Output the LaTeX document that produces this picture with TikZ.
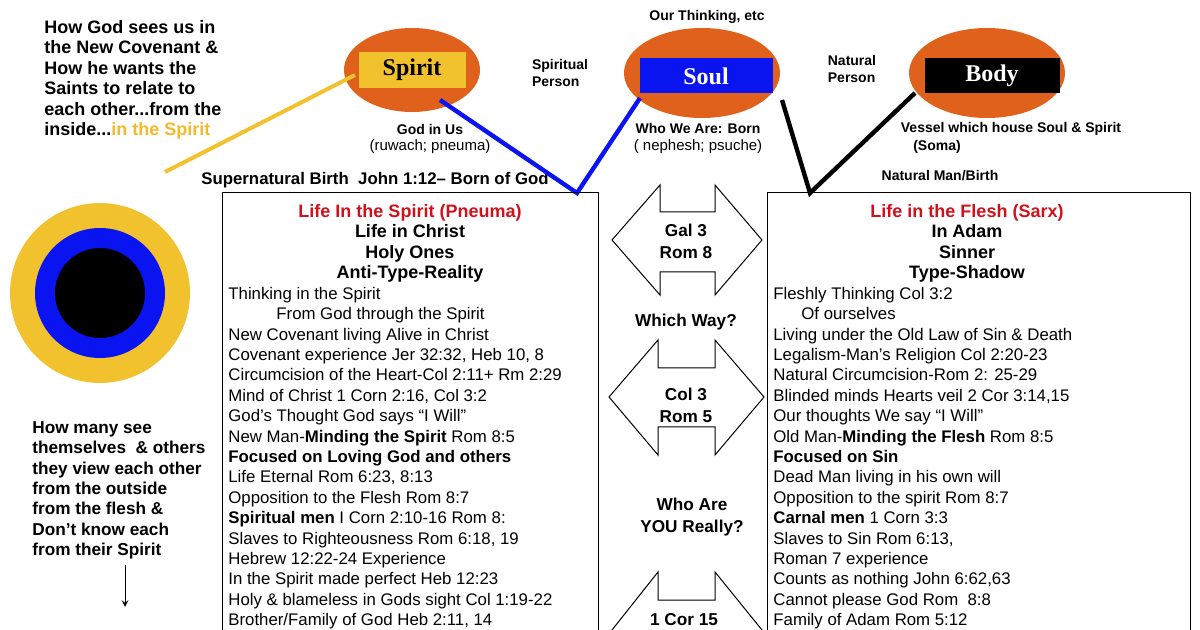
\documentclass[tikz,border=0pt]{standalone}
\usepackage{fontspec}
\setmainfont{Liberation Sans}
\newfontfamily\serifb{Liberation Serif}
\usetikzlibrary{positioning}
\definecolor{orng}{HTML}{E0611B}
\definecolor{gold}{HTML}{F2C12E}
\definecolor{spiritblue}{HTML}{0A14F0}
\definecolor{redtxt}{HTML}{D0111B}
\tikzset{
  lbl/.style={font=\fontsize{8.4}{10}\selectfont, inner sep=0pt},
  blbl/.style={lbl, font=\fontsize{8.4}{10}\selectfont\bfseries},
  row/.style={lbl, anchor=base west},
  head/.style={lbl, font=\fontsize{9}{10}\selectfont\bfseries},
  hrow/.style={head, anchor=base},
  egg/.style={ellipse, fill=orng},
  dblarrow/.style={draw=black, fill=white, line width=0.5pt}
}
\begin{document}
\begin{tikzpicture}[x=0.5pt,y=-0.5pt]
\useasboundingbox (0,0) rectangle (1200,630);
% top left caption
\node[blbl, anchor=north west, align=left, font=\fontsize{9}{10.25}\selectfont\bfseries] (cap) at (44,20)
  {How God sees us in\\the New Covenant \&\\How he wants the\\Saints to relate to\\each other...from the\\inside...\textcolor{gold!90!orange}{in the Spirit}};
\coordinate (capend) at (165,172);
% the three ellipses
\fill[orng] (412,70) ellipse [x radius=68, y radius=42];
\fill[orng] (702,73) ellipse [x radius=78, y radius=45];
\fill[orng] (987,73) ellipse [x radius=78, y radius=45];
\node[fill=gold, minimum width=53.5pt, minimum height=18pt, inner sep=0pt, font=\serifb\fontsize{12}{12}\selectfont\bfseries] (spirit) at (412,70) {Spirit};
\node[fill=spiritblue, minimum width=66.5pt, minimum height=17.5pt, inner sep=0pt, text=white, font=\serifb\fontsize{12}{12}\selectfont\bfseries] (soul) at (706,76) {Soul};
\node[fill=black, minimum width=67.5pt, minimum height=17.5pt, inner sep=0pt, text=white, font=\serifb\fontsize{12}{12}\selectfont\bfseries] (body) at (992,76) {Body};
\node[blbl, font=\fontsize{7}{8}\selectfont\bfseries] (think) at (707,17) {Our Thinking, etc};
\node[blbl, align=left, font=\fontsize{7}{8.5}\selectfont\bfseries] (spers) at (560,73) {Spiritual\\Person};
\node[blbl, align=left, font=\fontsize{7}{8.5}\selectfont\bfseries] (npers) at (852,69) {Natural\\Person};
\node[blbl, font=\fontsize{7}{8}\selectfont\bfseries] (godin) at (430,130) {God in Us};
\node[lbl, font=\fontsize{7.5}{8}\selectfont] (ruwach) at (430,147) {(ruwach; pneuma)};
\node[blbl, font=\fontsize{7}{8}\selectfont\bfseries] (whowe) at (698,129) {Who We Are: Born};
\node[lbl, font=\fontsize{7.5}{8}\selectfont] (nephesh) at (698,147) {( nephesh; psuche)};
\node[blbl, font=\fontsize{7}{8}\selectfont\bfseries] (vessel) at (1011,129) {Vessel which house Soul \& Spirit};
\node[blbl, font=\fontsize{7}{8}\selectfont\bfseries] (soma) at (937,147) {(Soma)};
\node[blbl] (superb) at (375,180) {Supernatural Birth\ \ John 1:12-- Born of God};
\node[blbl, font=\fontsize{7}{8}\selectfont\bfseries] (natb) at (940,176) {Natural Man/Birth};
% connectors
\coordinate (spiritend) at (355,75);
\coordinate (lefttop) at (577,193);
\coordinate (righttop) at (810,193);
\coordinate (spiritlow) at (440,100);
\coordinate (soullow) at (640,98);
\coordinate (soulright) at (782,100);
\coordinate (bodylow) at (915,93);
\draw[gold, line width=2pt] (capend) -- (spiritend);
\draw[spiritblue, line width=2.2pt] (spiritlow) -- (lefttop) -- (soullow);
\draw[black, line width=2.2pt] (soulright) -- (righttop) -- (bodylow);
% target circle
\fill[gold] (100,293) circle (90);
\fill[spiritblue] (100,293) circle (65);
\fill[black] (100,293) circle (45);
% boxes
\draw[line width=0.5pt] (222,640) -- (222,193) -- (598,193) -- (598,640);
\draw[line width=0.5pt] (767,640) -- (767,193) -- (1190,193) -- (1190,640);
% double arrows
\draw[dblarrow] (612,240) -- (660,185) -- (660,212) -- (715,212) -- (715,185) -- (762,240)
  -- (715,295) -- (715,272) -- (660,272) -- (660,295) -- cycle;
\draw[dblarrow] (609,397) -- (658,340) -- (658,368) -- (715,368) -- (715,340) -- (764,397)
  -- (715,455) -- (715,427) -- (658,427) -- (658,455) -- cycle;
\draw[dblarrow] (612,630) -- (658,572) -- (658,600) -- (715,600) -- (715,572) -- (762,630) -- (762,640) -- (612,640) -- cycle;
\node[head, align=center, font=\fontsize{8.6}{10}\selectfont\bfseries] (gal) at (686,241) {Gal 3\\[1pt]Rom 8};
\node[head, font=\fontsize{8.6}{10}\selectfont\bfseries] (which) at (686,322) {Which Way?};
\node[head, align=center, font=\fontsize{8.6}{10}\selectfont\bfseries] (col) at (686,405) {Col 3\\[1pt]Rom 5};
\node[head, align=center, font=\fontsize{8.6}{10}\selectfont\bfseries] (who) at (692,517) {Who Are\\[1pt]YOU Really?};
\node[head, font=\fontsize{8.6}{10}\selectfont\bfseries] (cor) at (684,620) {1 Cor 15};
% left box
\node[hrow, text=redtxt] (lhead) at (410,218) {Life In the Spirit (Pneuma)};
\node[hrow] (l2) at (410,238) {Life in Christ};
\node[hrow] (l3) at (410,259) {Holy Ones};
\node[hrow] (l4) at (410,279) {Anti-Type-Reality};
\foreach \t [count=\i] in {
  Thinking in the Spirit,
  {\hspace*{24pt}From God through the Spirit},
  New Covenant living Alive in Christ,
  {Covenant experience Jer 32:32, Heb 10, 8},
  Circumcision of the Heart-Col 2:11+ Rm 2:29,
  {Mind of Christ 1 Corn 2:16, Col 3:2},
  God’s Thought God says “I Will”,
  New Man-\textbf{Minding the Spirit} Rom 8:5,
  \textbf{Focused on Loving God and others},
  {Life Eternal Rom 6:23, 8:13},
  Opposition to the Flesh Rom 8:7,
  \textbf{Spiritual men} I Corn 2:10-16 Rom 8:,
  {Slaves to Righteousness Rom 6:18, 19},
  Hebrew 12:22-24 Experience,
  In the Spirit made perfect Heb 12:23,
  Holy \& blameless in Gods sight Col 1:19-22,
  {Brother/Family of God Heb 2:11, 14}}
  \node[row] (lrow\i) at (228,279+20.4*\i) {\t};
% right box
\node[hrow, text=redtxt] (rhead) at (967,218) {Life in the Flesh (Sarx)};
\node[hrow] (r2) at (967,238) {In Adam};
\node[hrow] (r3) at (967,259) {Sinner};
\node[hrow] (r4) at (967,279) {Type-Shadow};
\foreach \t [count=\i] in {
  Fleshly Thinking Col 3:2,
  {\hspace*{14pt}Of ourselves},
  Living under the Old Law of Sin \& Death,
  Legalism-Man’s Religion Col 2:20-23,
  {Natural Circumcision-Rom 2: 25-29},
  {Blinded minds Hearts veil 2 Cor 3:14,15},
  Our thoughts We say “I Will”,
  Old Man-\textbf{Minding the Flesh} Rom 8:5,
  \textbf{Focused on Sin},
  Dead Man living in his own will,
  Opposition to the spirit Rom 8:7,
  \textbf{Carnal men} 1 Corn 3:3,
  {Slaves to Sin Rom 6:13,},
  Roman 7 experience,
  {Counts as nothing John 6:62,63},
  Cannot please God Rom\ \ 8:8,
  Family of Adam Rom 5:12}
  \node[row] (rrow\i) at (773,279+20.4*\i) {\t};
% bottom left caption
\node[blbl, anchor=north west, align=left, font=\fontsize{8.6}{10.2}\selectfont\bfseries] (many) at (32,421)
  {How many see\\themselves \ \& others\\they view each other\\from the outside\\from the flesh \&\\Don’t know each\\from their Spirit};
\coordinate (arrend) at (125,607);
\draw[-stealth, line width=0.5pt] (125,565) -- (arrend);
\end{tikzpicture}
\end{document}
